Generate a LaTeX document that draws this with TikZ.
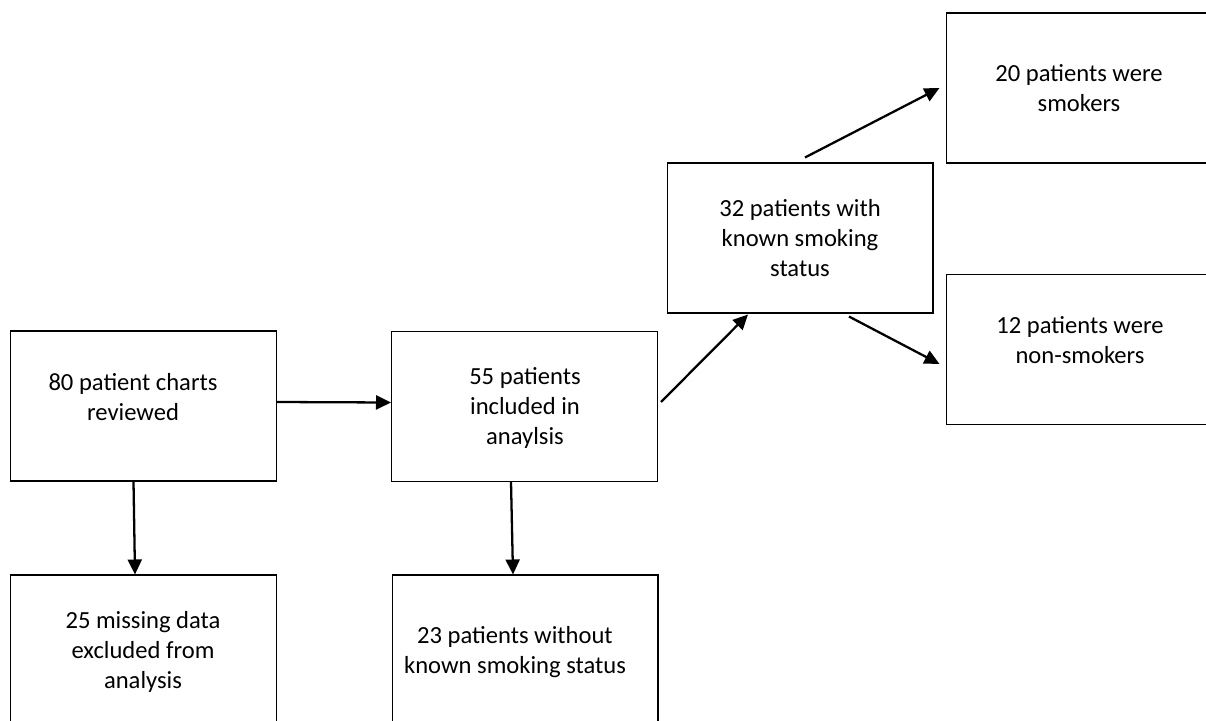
\documentclass[tikz,border=0pt]{standalone}
\usepackage{fontspec}
\setmainfont{Carlito}
\usepackage{tikz}
\usetikzlibrary{arrows.meta, positioning, calc}

\begin{document}
\begin{tikzpicture}[
  x=0.02cm, y=-0.02cm,
  every node/.style={font=\fontsize{14}{17}\selectfont},
  box/.style={rectangle, draw=black, line width=0.6pt, fill=white,
              minimum width=5.32cm, minimum height=3cm, inner sep=0pt},
  txt/.style={align=center, anchor=base, inner sep=0pt},
  arr/.style={-{Triangle[length=0.3cm, width=0.28cm]}, line width=1.3pt, color=black},
]
\clip (0,0) rectangle (1206,720);

\node[box] (charts)   at (143.5,406)  {};
\node[box] (incl)     at (524.5,406.5) {};
\node[box] (excl)     at (143.5,650)  {};
\node[box] (without)  at (525,650)    {};
\node[box] (known)    at (800,238)    {};
\node[box] (smok)     at (1079,88)    {};
\node[box] (nonsmok)  at (1079,349.5) {};

\node[txt] (chartstxt)  at (133,420)  {80 patient charts\\reviewed};
\node[txt] (incltxt)    at (525,444)  {55 patients\\included in\\anaylsis};
\node[txt] (excltxt)    at (143,688)  {25 missing data\\excluded from\\analysis};
\node[txt] (withouttxt) at (515,673)  {23 patients without\\known smoking status};
\node[txt] (knowntxt)   at (800,276)  {32 patients with\\known smoking\\status};
\node[txt] (smoktxt)    at (1079,111) {20 patients were\\smokers};
\node[txt] (nonsmoktxt) at (1080,363) {12 patients were\\non-smokers};

\draw[arr] ([yshift=0.08cm]charts.east) -- ([yshift=0.08cm]incl.west);
\draw[arr] ([xshift=-0.2cm]charts.south) -- ([xshift=-0.17cm]excl.north);
\draw[arr] ([xshift=-0.27cm]incl.south) -- ([xshift=-0.24cm]without.north);
\draw[arr] ([xshift=0.06cm,yshift=0.09cm]incl.east) -- ([xshift=-1.04cm,yshift=-0.02cm]known.south);
\draw[arr] ([xshift=0.1cm,yshift=0.1cm]known.north) -- ([xshift=-0.12cm]smok.west);
\draw[arr] ([xshift=0.98cm,yshift=-0.06cm]known.south) -- ([xshift=-0.12cm,yshift=-0.29cm]nonsmok.west);

\end{tikzpicture}
\end{document}
